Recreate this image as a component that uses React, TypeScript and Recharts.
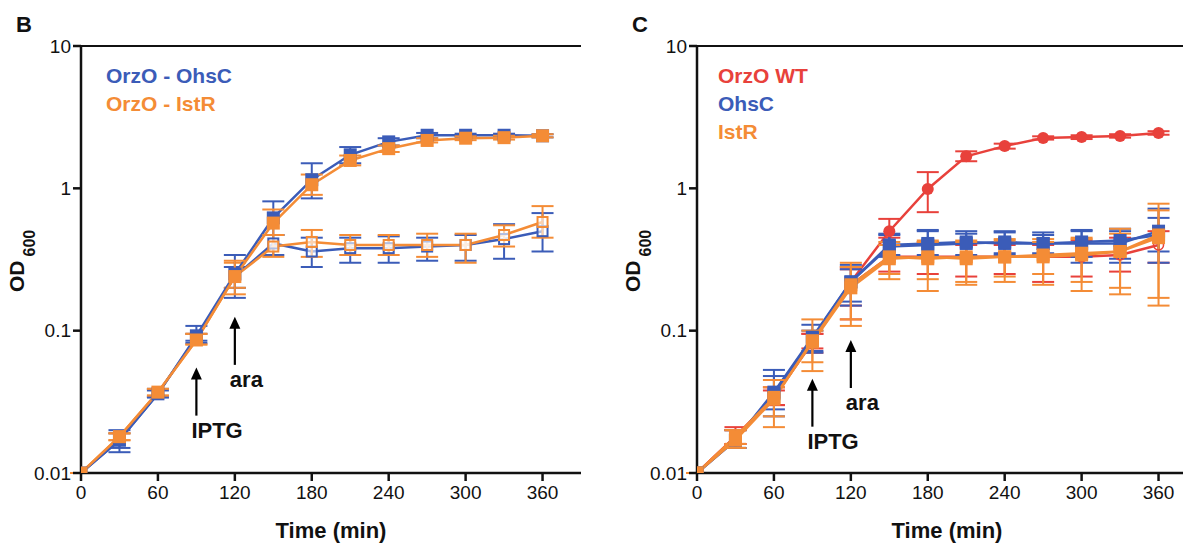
import { LineChart, Line, XAxis, YAxis, ErrorBar, ReferenceLine, ReferenceDot } from 'recharts';

const times = [0, 30, 60, 90, 120, 150, 180, 210, 240, 270, 300, 330, 360];
const xTicks = [0, 60, 120, 180, 240, 300, 360];
const yTicks = [0.01, 0.1, 1, 10];

// panel B
const bOhsC = [0.01, 0.017, 0.036, 0.092, 0.25, 0.62, 1.15, 1.72, 2.12, 2.36, 2.36, 2.36, 2.34];
const bOhsCLo = [0.01, 0.014, 0.034, 0.082, 0.17, 0.47, 0.85, 1.5, 2.0, 2.25, 2.3, 2.3, 2.28];
const bOhsCHi = [0.01, 0.02, 0.039, 0.108, 0.34, 0.81, 1.5, 1.95, 2.25, 2.45, 2.42, 2.42, 2.4];
const bIstR = [0.01, 0.018, 0.037, 0.086, 0.24, 0.57, 1.06, 1.57, 1.9, 2.17, 2.25, 2.27, 2.34];
const bIstRLo = [0.01, 0.017, 0.035, 0.08, 0.18, 0.47, 0.9, 1.45, 1.8, 2.1, 2.18, 2.2, 2.28];
const bIstRHi = [0.01, 0.019, 0.039, 0.095, 0.31, 0.71, 1.25, 1.7, 2.0, 2.25, 2.32, 2.34, 2.4];
const bOhsCOff = [0.01, 0.017, 0.036, 0.09, 0.24, 0.41, 0.36, 0.38, 0.38, 0.39, 0.4, 0.44, 0.5];
const bOhsCOffLo = [0.01, 0.015, 0.034, 0.085, 0.2, 0.34, 0.28, 0.3, 0.3, 0.31, 0.31, 0.32, 0.36];
const bOhsCOffHi = [0.01, 0.019, 0.038, 0.095, 0.28, 0.47, 0.45, 0.45, 0.46, 0.45, 0.47, 0.56, 0.67];
const bIstROff = [0.01, 0.018, 0.037, 0.086, 0.24, 0.39, 0.42, 0.4, 0.4, 0.4, 0.4, 0.47, 0.58];
const bIstROffLo = [0.01, 0.017, 0.035, 0.08, 0.2, 0.33, 0.33, 0.34, 0.34, 0.33, 0.3, 0.39, 0.45];
const bIstROffHi = [0.01, 0.019, 0.039, 0.095, 0.3, 0.47, 0.51, 0.47, 0.47, 0.48, 0.48, 0.55, 0.75];

// panel C
const cWT = [0.01, 0.018, 0.034, 0.085, 0.22, 0.5, 0.99, 1.68, 1.98, 2.26, 2.29, 2.33, 2.45];
const cWTLo = [0.01, 0.016, 0.03, 0.075, 0.15, 0.4, 0.68, 1.55, 1.9, 2.2, 2.22, 2.27, 2.38];
const cWTHi = [0.01, 0.021, 0.04, 0.095, 0.28, 0.61, 1.3, 1.82, 2.06, 2.32, 2.36, 2.4, 2.52];
const cWTOff = [0.01, 0.018, 0.034, 0.083, 0.21, 0.33, 0.33, 0.33, 0.33, 0.33, 0.33, 0.34, 0.4];
const cWTOffLo = [0.01, 0.016, 0.03, 0.07, 0.12, 0.26, 0.25, 0.24, 0.25, 0.22, 0.24, 0.26, 0.3];
const cWTOffHi = [0.01, 0.02, 0.038, 0.095, 0.27, 0.45, 0.42, 0.4, 0.4, 0.4, 0.43, 0.45, 0.5];
const cOhsC = [0.01, 0.017, 0.037, 0.09, 0.22, 0.4, 0.41, 0.42, 0.41, 0.41, 0.41, 0.41, 0.5];
const cOhsCLo = [0.01, 0.015, 0.025, 0.07, 0.15, 0.34, 0.33, 0.34, 0.35, 0.34, 0.33, 0.32, 0.3];
const cOhsCHi = [0.01, 0.02, 0.053, 0.11, 0.29, 0.47, 0.5, 0.5, 0.5, 0.49, 0.5, 0.52, 0.72];
const cOhsC2 = [0.01, 0.017, 0.036, 0.088, 0.22, 0.39, 0.4, 0.41, 0.42, 0.41, 0.42, 0.43, 0.47];
const cOhsC2Lo = [0.01, 0.015, 0.028, 0.072, 0.16, 0.33, 0.34, 0.33, 0.34, 0.35, 0.3, 0.3, 0.36];
const cOhsC2Hi = [0.01, 0.02, 0.048, 0.1, 0.27, 0.48, 0.51, 0.48, 0.49, 0.47, 0.51, 0.5, 0.62];
const cIstR = [0.01, 0.017, 0.033, 0.085, 0.21, 0.33, 0.32, 0.33, 0.33, 0.33, 0.34, 0.36, 0.47];
const cIstRLo = [0.01, 0.015, 0.021, 0.052, 0.108, 0.23, 0.19, 0.21, 0.22, 0.21, 0.19, 0.18, 0.15];
const cIstRHi = [0.01, 0.02, 0.04, 0.12, 0.3, 0.42, 0.43, 0.43, 0.44, 0.44, 0.45, 0.52, 0.78];
const cIstR2 = [0.01, 0.018, 0.034, 0.083, 0.2, 0.32, 0.33, 0.32, 0.33, 0.34, 0.35, 0.36, 0.45];
const cIstR2Lo = [0.01, 0.016, 0.025, 0.06, 0.12, 0.25, 0.23, 0.22, 0.24, 0.25, 0.22, 0.2, 0.17];
const cIstR2Hi = [0.01, 0.02, 0.045, 0.1, 0.28, 0.4, 0.42, 0.42, 0.43, 0.42, 0.44, 0.48, 0.7];

const arrowLabels = ['IPTG', 'ara'];
const arrowTimes = [90, 120];
const bArrowTips = [0.055, 0.125];
const cArrowTips = [0.046, 0.086];

const BLUE = '#3b5cb8';
const ORANGE = '#f48c36';
const RED = '#e8413b';
const FONT = '"Liberation Sans", Arial, sans-serif';

type Marker = 'square' | 'openSquare' | 'circle' | 'openCircle';
type Series = { key: string; color: string; marker: Marker; values: number[]; lo: number[]; hi: number[] };

const bSeries: Series[] = [
  { key: 'bOhsCOff', color: BLUE, marker: 'openSquare', values: bOhsCOff, lo: bOhsCOffLo, hi: bOhsCOffHi },
  { key: 'bIstROff', color: ORANGE, marker: 'openSquare', values: bIstROff, lo: bIstROffLo, hi: bIstROffHi },
  { key: 'bOhsC', color: BLUE, marker: 'square', values: bOhsC, lo: bOhsCLo, hi: bOhsCHi },
  { key: 'bIstR', color: ORANGE, marker: 'square', values: bIstR, lo: bIstRLo, hi: bIstRHi },
];

const cSeries: Series[] = [
  { key: 'cWT', color: RED, marker: 'circle', values: cWT, lo: cWTLo, hi: cWTHi },
  { key: 'cWTOff', color: RED, marker: 'openCircle', values: cWTOff, lo: cWTOffLo, hi: cWTOffHi },
  { key: 'cOhsC', color: BLUE, marker: 'square', values: cOhsC, lo: cOhsCLo, hi: cOhsCHi },
  { key: 'cOhsC2', color: BLUE, marker: 'square', values: cOhsC2, lo: cOhsC2Lo, hi: cOhsC2Hi },
  { key: 'cIstR', color: ORANGE, marker: 'square', values: cIstR, lo: cIstRLo, hi: cIstRHi },
  { key: 'cIstR2', color: ORANGE, marker: 'square', values: cIstR2, lo: cIstR2Lo, hi: cIstR2Hi },
];

const bLegend = [
  { name: 'OrzO - OhsC', color: BLUE },
  { name: 'OrzO - IstR', color: ORANGE },
];
const cLegend = [
  { name: 'OrzO WT', color: RED },
  { name: 'OhsC', color: BLUE },
  { name: 'IstR', color: ORANGE },
];

const buildRows = (series: Series[]) =>
  times.map((t, i) => {
    const row: any = { t };
    series.forEach((s) => {
      row[s.key] = s.values[i];
      row[s.key + 'Err'] = [s.values[i] - s.lo[i], s.hi[i] - s.values[i]];
    });
    return row;
  });

const makeDot = (marker: Marker, color: string) => (p: any) => {
  const { cx, cy, index } = p;
  if (cx == null || cy == null) return <g key={`d-${index}`} />;
  if (marker === 'square')
    return <rect key={`d-${index}`} x={cx - 6.5} y={cy - 6.5} width={13} height={13} fill={color} />;
  if (marker === 'openSquare')
    return <rect key={`d-${index}`} x={cx - 5} y={cy - 5} width={10} height={10} fill="#fff" fillOpacity={0.6} stroke={color} strokeWidth={2} />;
  if (marker === 'circle') return <circle key={`d-${index}`} cx={cx} cy={cy} r={6} fill={color} />;
  return <circle key={`d-${index}`} cx={cx} cy={cy} r={5} fill="none" stroke={color} strokeWidth={1.5} />;
};

const arrowShape = (label: string) => (p: any) => {
  const { cx, cy } = p;
  return (
    <g>
      <polygon points={`${cx},${cy} ${cx - 5.5},${cy + 12} ${cx + 5.5},${cy + 12}`} fill="#000" />
      <line x1={cx} y1={cy + 10} x2={cx} y2={cy + 48} stroke="#000" strokeWidth={2.2} />
      <text x={cx - 5} y={cy + 70} fontSize={22} fontWeight={700} fontFamily={FONT} fill="#111">
        {label}
      </text>
    </g>
  );
};

const odLabel = () => (
  <text x={24} y={292} transform="rotate(-90, 24, 292)" fontFamily={FONT} fontWeight={700} fill="#111" fontSize={21}>
    OD
    <tspan fontSize={16} dx={4} dy={11}>600</tspan>
  </text>
);

const timeLabel = (p: any) => {
  const vb = p.viewBox || {};
  return (
    <text x={vb.x + vb.width / 2} y={538} textAnchor="middle" fontFamily={FONT} fontWeight={700} fontSize={22} fill="#111">
      Time (min)
    </text>
  );
};

const tickStyle = { fontSize: 19, fill: '#111', fontFamily: FONT };
const axisStroke = { stroke: '#111', strokeWidth: 2.5 };

const Panel = ({ series, arrowTips, left, legend, letter }: { series: Series[]; arrowTips: number[]; left: number; legend: { name: string; color: string }[]; letter: string }) => {
  const rows = buildRows(series);
  return (
    <div style={{ position: 'absolute', left, top: 0, width: 581, height: 543 }}>
      <div style={{ position: 'absolute', left: 16, top: 14, fontFamily: FONT, fontWeight: 700, fontSize: 22, lineHeight: '22px', color: '#111' }}>
        {letter}
      </div>
      <LineChart width={581} height={543} data={rows} margin={{ top: 46, right: 0, bottom: 0, left: 0 }}>
        <XAxis
          dataKey="t"
          type="number"
          domain={[0, 390]}
          ticks={xTicks}
          allowDataOverflow
          height={70}
          tickSize={8}
          tickMargin={5}
          axisLine={axisStroke}
          tickLine={axisStroke}
          tick={tickStyle}
          label={timeLabel}
        />
        <YAxis
          scale="log"
          type="number"
          domain={[0.01, 10]}
          ticks={yTicks}
          allowDataOverflow
          width={81}
          tickSize={8}
          tickMargin={2}
          axisLine={axisStroke}
          tickLine={axisStroke}
          tick={tickStyle}
          tickFormatter={(v: number) => String(v)}
          label={odLabel}
        />
        <ReferenceLine y={10} stroke="#111" strokeWidth={2} />
        {series.map((s) => (
          <Line
            key={s.key}
            dataKey={s.key}
            stroke={s.color}
            strokeWidth={2.5}
            dot={makeDot(s.marker, s.color)}
            activeDot={false}
            isAnimationActive={false}
          >
            <ErrorBar dataKey={s.key + 'Err'} width={11} strokeWidth={2} stroke={s.color} direction="y" />
          </Line>
        ))}
        {arrowTimes.map((t, i) => (
          <ReferenceDot key={arrowLabels[i]} x={t} y={arrowTips[i]} shape={arrowShape(arrowLabels[i])} />
        ))}
      </LineChart>
      <div style={{ position: 'absolute', left: letter === 'B' ? 106 : 102, top: 62, fontFamily: FONT, fontWeight: 700, fontSize: 21, lineHeight: '28px' }}>
        {legend.map((l) => (
          <div key={l.name} style={{ color: l.color, whiteSpace: 'nowrap' }}>
            {l.name}
          </div>
        ))}
      </div>
    </div>
  );
};

export default function App() {
  return (
    <div style={{ position: 'absolute', left: 0, top: 0, width: 1183, height: 543, overflow: 'hidden', background: '#fff' }}>
      <Panel series={bSeries} arrowTips={bArrowTips} left={0} legend={bLegend} letter="B" />
      <Panel series={cSeries} arrowTips={cArrowTips} left={616} legend={cLegend} letter="C" />
    </div>
  );
}
